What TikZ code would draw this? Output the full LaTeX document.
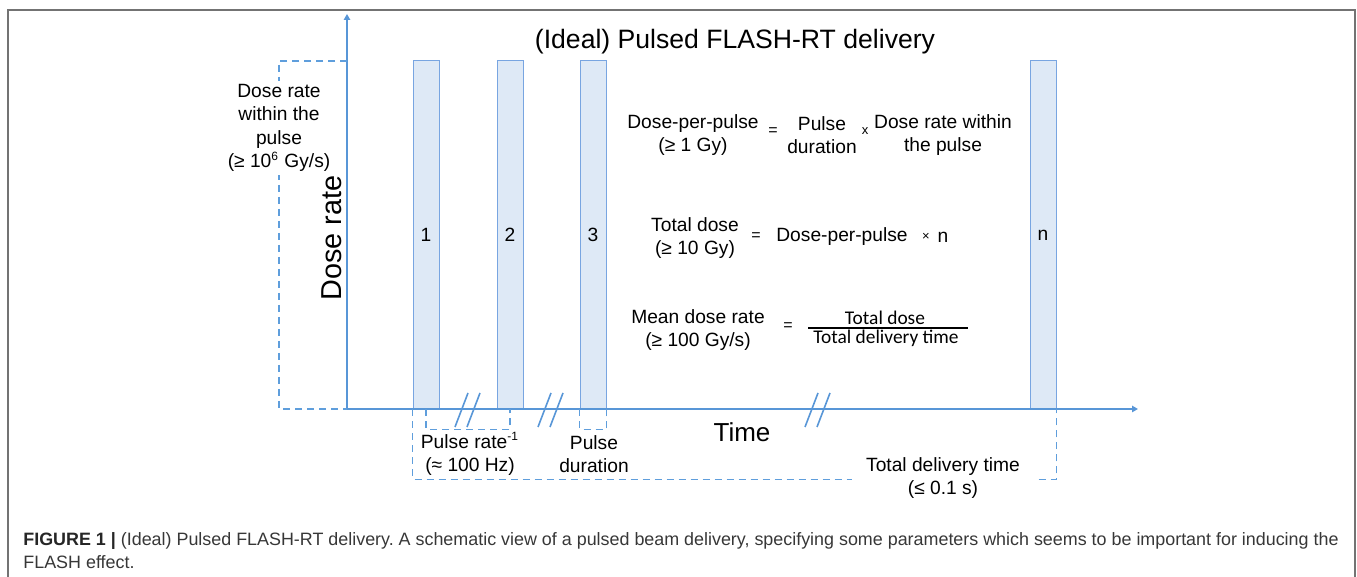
\documentclass[tikz,border=0pt]{standalone}
\usepackage{fontspec}
\setmainfont{Liberation Sans}
\newfontfamily\calib{Carlito}
\usetikzlibrary{arrows.meta}
\definecolor{axisblue}{RGB}{88,150,215}
\definecolor{dashblue}{RGB}{95,158,220}
\definecolor{pulsefill}{RGB}{222,233,246}
\definecolor{pulseline}{RGB}{120,165,225}
\definecolor{framegray}{RGB}{115,115,115}
\definecolor{captext}{RGB}{55,55,55}
\tikzset{
  axisline/.style={draw=axisblue, line width=0.9pt, -{Triangle[length=3pt,width=3.2pt]}},
  pulsebox/.style={draw=pulseline, line width=0.5pt, fill=pulsefill, minimum width=13pt, minimum height=174pt, inner sep=0pt, font=\fontsize{9.6}{11.6}\selectfont},
  dashline/.style={draw=dashblue, line width=0.7pt, dash pattern=on 3.5pt off 2.5pt},
  breakline/.style={draw=axisblue, line width=0.8pt},
  lbl/.style={align=center, inner sep=0pt, font=\fontsize{9.6}{11.7}\selectfont},
  eqsign/.style={inner sep=0pt, font=\fontsize{8}{9}\selectfont},
  timessign/.style={inner sep=0pt, font=\fontsize{6.5}{8}\selectfont},
  caption/.style={anchor=west, inner sep=0pt, text=captext, font=\frenchspacing\fontsize{8.95}{10}\selectfont}
}
\newcommand{\supsmall}[1]{\textsuperscript{\fontsize{6}{7}\selectfont #1}}
\begin{document}
\begin{tikzpicture}[x=0.5pt,y=-0.5pt]
\useasboundingbox (0,0) rectangle (1357,577);
% frame
\draw[framegray, line width=1pt] (8,577) -- (8,10) -- (1355,10) -- (1355,577);
% axes
\coordinate (O) at (347,409);
\coordinate (ytip) at (347,14);
\coordinate (xtip) at (1138,409);
\coordinate (ytop) at (347,61);
% pulses
\node[pulsebox] (p1) at (426,235) {1};
\node[pulsebox] (p2) at (510,235) {2};
\node[pulsebox] (p3) at (593,235) {3};
\node[pulsebox] (pn) at (1043,235) {n};
\draw[axisline] (O) -- (ytip);
\draw[axisline] (O) -- (xtip);
% axis breaks
\foreach \bx in {455,467,538,550,805,817}{
  \draw[breakline] (\bx,427) -- ++(13,-34);
}
% title and axis labels
\node[inner sep=0pt, font=\fontsize{13.3}{15}\selectfont] (title) at (735,42) {(Ideal) Pulsed FLASH-RT delivery};
\node[inner sep=0pt, rotate=90, font=\fontsize{14.4}{16}\selectfont] (ylab) at (332,238) {Dose rate};
\node[inner sep=0pt, font=\fontsize{13}{15}\selectfont] (xlab) at (742,432) {Time};
% dose rate within the pulse bracket
\draw[dashline] (ytop) -- ++(-68,0) |- (O);
\node[lbl, fill=white, inner xsep=2pt, inner ysep=1.5pt] (drlab) at (279,128) {Dose rate\\within the\\pulse\\(≥ 10\supsmall{6} Gy/s)};
% pulse rate bracket
\draw[dashline] (p1.south) -- ++(0,20) -| (p2.south);
\node[lbl] (prlab) at (470,454) {Pulse rate\supsmall{-1}\\(≈ 100 Hz)};
% pulse duration bracket
\draw[dashline] (p3.south west) -- ++(0,20) -| (p3.south east);
\node[lbl] (pdlab) at (594,454) {Pulse\\duration};
% total delivery time bracket
\draw[dashline] (p1.south west) -- ++(0,70) -| (pn.south east);
\node[lbl, fill=white, inner xsep=7pt, inner ysep=2pt] (tdlab) at (943,478) {Total delivery time\\(≤ 0.1 s)};
% formula 1
\node[lbl] (dpp) at (693,135) {Dose-per-pulse\\(≥ 1 Gy)};
\node[eqsign] (eq1) at (773,132) {=};
\node[lbl] (pd) at (822,135) {Pulse\\duration};
\node[timessign] (x1) at (865,131) {x};
\node[lbl] (drw) at (943,135) {Dose rate within\\the pulse};
% formula 2
\node[lbl] (td) at (695,238) {Total dose\\(≥ 10 Gy)};
\node[eqsign] (eq2) at (756,237) {=};
\node[lbl] (dpp2) at (842,237) {Dose-per-pulse};
\node[timessign] (x2) at (926,237) {×};
\node[lbl] (nn) at (943,237) {n};
% formula 3
\node[lbl] (mdr) at (698,330) {Mean dose rate\\(≥ 100 Gy/s)};
\node[eqsign] (eq3) at (788,327) {=};
\node[inner sep=0pt, font=\calib\fontsize{9.7}{11}\selectfont] (num) at (885,318) {Total dose};
\node[inner sep=0pt, font=\calib\fontsize{9.7}{11}\selectfont] (den) at (886,338) {Total delivery time};
\draw[black, line width=0.6pt] (808,328) -- (968,328);
% caption
\node[caption] (cap1) at (23,541) {\textbf{\color{black!85}FIGURE 1 |} (Ideal) Pulsed FLASH-RT delivery. A schematic view of a pulsed beam delivery, specifying some parameters which seems to be important for inducing the};
\node[caption] (cap2) at (23,562) {FLASH effect.};
\end{tikzpicture}
\end{document}
